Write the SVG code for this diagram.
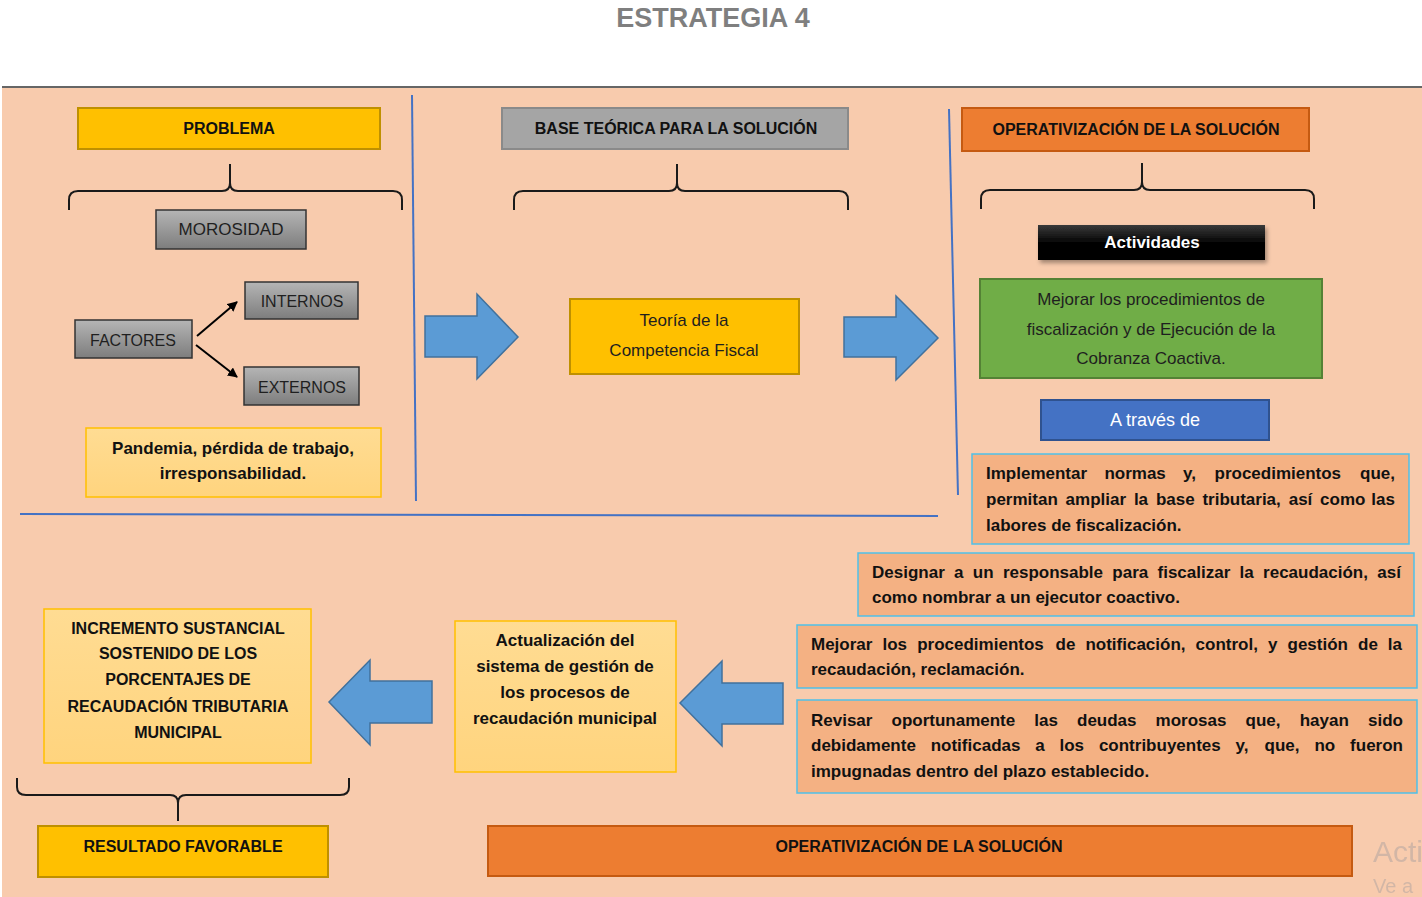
<svg xmlns="http://www.w3.org/2000/svg" width="1422" height="897" viewBox="0 0 1422 897">
<defs>
<linearGradient id="gGray" x1="0" y1="0" x2="0" y2="1"><stop offset="0" stop-color="#b5b5b5"/><stop offset="1" stop-color="#7d7d7d"/></linearGradient>
<linearGradient id="gBlack" x1="0" y1="0" x2="0" y2="1"><stop offset="0" stop-color="#3a3a3a"/><stop offset="0.5" stop-color="#050505"/><stop offset="1" stop-color="#000"/></linearGradient>
<linearGradient id="gLight" x1="0" y1="0" x2="0" y2="1"><stop offset="0" stop-color="#ffdc93"/><stop offset="1" stop-color="#ffd47e"/></linearGradient>
<filter id="sh" x="-10%" y="-20%" width="130%" height="160%"><feDropShadow dx="2" dy="3" stdDeviation="2" flood-color="#000" flood-opacity="0.35"/></filter>
<marker id="ah" viewBox="0 0 10 10" refX="9" refY="5" markerWidth="5" markerHeight="5" orient="auto"><path d="M0,0 L10,5 L0,10 z" fill="#000"/></marker>
<style>
text{font-family:"Liberation Sans",Arial,sans-serif;fill:#111;}
.h{font-size:16px;font-weight:bold;text-anchor:middle;dominant-baseline:central;}
.r{font-size:17px;text-anchor:middle;dominant-baseline:central;fill:#1f1f1f;}
.b{font-size:17px;font-weight:bold;dominant-baseline:central;}
.bc{font-size:17px;font-weight:bold;text-anchor:middle;dominant-baseline:central;}
.bu{font-size:16px;font-weight:bold;text-anchor:middle;dominant-baseline:central;}
.gray{fill:url(#gGray);stroke:#333;stroke-width:1.5;}
.gold{fill:#FFC000;stroke:#BF9000;stroke-width:2;}
.orange{fill:#ED7D31;stroke:#C55A11;stroke-width:2;}
.light{fill:url(#gLight);stroke:#FFC000;stroke-width:1.5;}
.para{fill:#F4B183;stroke:#4FC1E9;stroke-width:1.5;}
.brace{fill:none;stroke:#1a1a1a;stroke-width:2;}
.blk{fill:#5B9BD5;stroke:#41719C;stroke-width:1.5;}
.sep{stroke:#4472C4;stroke-width:2;fill:none;}
</style>
</defs>
<rect x="0" y="0" width="1422" height="897" fill="#fff"/>
<rect x="2" y="88" width="1420" height="809" fill="#F8CBAD"/>
<line x1="2" y1="87" x2="1422" y2="87" stroke="#333" stroke-width="1.5"/>
<text x="713" y="18" style="font-size:27px;font-weight:bold;fill:#7f7f7f;text-anchor:middle;dominant-baseline:central;">ESTRATEGIA 4</text>

<g id="separators">
<line class="sep" x1="412" y1="95" x2="416" y2="501"/>
<line class="sep" x1="949" y1="109" x2="958" y2="495"/>
<line class="sep" x1="20" y1="514" x2="938" y2="516"/>
</g>

<g id="braces">
<path class="brace" d="M69,210 L69,200 Q69,191 78,191 L222,191 Q230,191 230,183 L230,164 M230,183 Q230,191 238,191 L393,191 Q402,191 402,200 L402,210"/>
<path class="brace" d="M514,210 L514,200 Q514,191 523,191 L669,191 Q677,191 677,183 L677,164 M677,183 Q677,191 685,191 L839,191 Q848,191 848,200 L848,210"/>
<path class="brace" d="M981,209 L981,199 Q981,190 990,190 L1134,190 Q1142,190 1142,182 L1142,163 M1142,182 Q1142,190 1150,190 L1305,190 Q1314,190 1314,199 L1314,209"/>
<path class="brace" d="M17,778 L17,787 Q17,795 26,795 L170,795 Q178,795 178,803 L178,821 M178,803 Q178,795 186,795 L340,795 Q349,795 349,787 L349,778"/>
</g>

<g id="problema"><rect class="gold" x="78" y="108" width="302" height="41"/><text class="h" x="229" y="128">PROBLEMA</text></g>
<g id="morosidad"><rect class="gray" x="156" y="210" width="150" height="39"/><text class="r" x="231" y="229">MOROSIDAD</text></g>
<g id="internos"><rect class="gray" x="245" y="282" width="113" height="37"/><text class="r" x="302" y="301" style="font-size:16px">INTERNOS</text></g>
<g id="factores"><rect class="gray" x="75" y="320" width="117" height="38"/><text class="r" x="133" y="340" style="font-size:16px">FACTORES</text></g>
<g id="externos"><rect class="gray" x="244" y="367" width="115" height="38"/><text class="r" x="302" y="387" style="font-size:16px">EXTERNOS</text></g>
<g id="pandemia"><rect class="light" x="86" y="428" width="295" height="69"/>
<text class="bc" x="233" y="448">Pandemia, pérdida de trabajo,</text>
<text class="bc" x="233" y="473">irresponsabilidad.</text></g>

<g id="base"><rect x="502" y="108" width="346" height="41" fill="#A5A5A5" stroke="#8a8a8a" stroke-width="2"/><text class="h" x="676" y="128">BASE TEÓRICA PARA LA SOLUCIÓN</text></g>
<g id="teoria"><rect class="gold" x="570" y="299" width="229" height="75"/>
<text class="r" x="684" y="320">Teoría de la</text>
<text class="r" x="684" y="350">Competencia Fiscal</text></g>

<g id="operativizacion"><rect class="orange" x="962" y="108" width="347" height="43"/><text class="h" x="1136" y="129">OPERATIVIZACIÓN DE LA SOLUCIÓN</text></g>
<g id="actividades"><rect x="1038" y="225" width="227" height="35" fill="url(#gBlack)" filter="url(#sh)"/><text class="bc" x="1152" y="242" style="fill:#fff">Actividades</text></g>
<g id="mejorar-green"><rect x="980" y="279" width="342" height="99" fill="#70AD47" stroke="#548235" stroke-width="2"/>
<text class="r" x="1151" y="299">Mejorar los procedimientos de</text>
<text class="r" x="1151" y="329">fiscalización y de Ejecución de la</text>
<text class="r" x="1151" y="358">Cobranza Coactiva.</text></g>
<g id="atraves"><rect x="1041" y="400" width="228" height="40" fill="#4472C4" stroke="#2F528F" stroke-width="2"/><text class="r" x="1155" y="420" style="fill:#fff;font-size:18px">A través de</text></g>

<g id="implementar"><rect class="para" x="972" y="454" width="437" height="90"/>
<text class="b" y="473"><tspan x="986">Implementar</tspan><tspan x="1104.4">normas</tspan><tspan x="1183">y,</tspan><tspan x="1214.5">procedimientos</tspan><tspan x="1395" text-anchor="end">que,</tspan></text>
<text class="b" y="499"><tspan x="986">permitan</tspan><tspan x="1065.6">ampliar</tspan><tspan x="1133.9">la</tspan><tspan x="1155.9">base</tspan><tspan x="1202.4">tributaria,</tspan><tspan x="1288.7">así</tspan><tspan x="1320.1">como</tspan><tspan x="1395" text-anchor="end">las</tspan></text>
<text class="b" x="986" y="525">labores de fiscalización.</text></g>

<g id="designar"><rect class="para" x="858" y="553" width="556" height="63"/>
<text class="b" y="572"><tspan x="872">Designar</tspan><tspan x="954">a</tspan><tspan x="972.8">un</tspan><tspan x="1002.9">responsable</tspan><tspan x="1112.3">para</tspan><tspan x="1157.5">fiscalizar</tspan><tspan x="1239.6">la</tspan><tspan x="1263.1">recaudación,</tspan><tspan x="1401" text-anchor="end">así</tspan></text>
<text class="b" x="872" y="597">como nombrar a un ejecutor coactivo.</text></g>

<g id="mejorar"><rect class="para" x="797" y="625" width="620" height="63"/>
<text class="b" y="644"><tspan x="811">Mejorar</tspan><tspan x="882.5">los</tspan><tspan x="917.2">procedimientos</tspan><tspan x="1055.6">de</tspan><tspan x="1085.4">notificación,</tspan><tspan x="1195.6">control,</tspan><tspan x="1268">y</tspan><tspan x="1287.5">gestión</tspan><tspan x="1358.1">de</tspan><tspan x="1402" text-anchor="end">la</tspan></text>
<text class="b" x="811" y="669">recaudación, reclamación.</text></g>

<g id="revisar"><rect class="para" x="797" y="700" width="620" height="93"/>
<text class="b" y="720"><tspan x="811">Revisar</tspan><tspan x="891.5">oportunamente</tspan><tspan x="1034.3">las</tspan><tspan x="1077">deudas</tspan><tspan x="1155.6">morosas</tspan><tspan x="1245.6">que,</tspan><tspan x="1299.7">hayan</tspan><tspan x="1403" text-anchor="end">sido</tspan></text>
<text class="b" y="745"><tspan x="811">debidamente</tspan><tspan x="930.7">notificadas</tspan><tspan x="1035.2">a</tspan><tspan x="1059.5">los</tspan><tspan x="1098.9">contribuyentes</tspan><tspan x="1235.6">y,</tspan><tspan x="1264.6">que,</tspan><tspan x="1314.4">no</tspan><tspan x="1403" text-anchor="end">fueron</tspan></text>
<text class="b" x="811" y="771">impugnadas dentro del plazo establecido.</text></g>

<g id="incremento"><rect class="light" x="44" y="609" width="267" height="154"/>
<text class="bu" x="178" y="628">INCREMENTO SUSTANCIAL</text>
<text class="bu" x="178" y="653">SOSTENIDO DE LOS</text>
<text class="bu" x="178" y="679">PORCENTAJES DE</text>
<text class="bu" x="178" y="706">RECAUDACIÓN TRIBUTARIA</text>
<text class="bu" x="178" y="732">MUNICIPAL</text></g>

<g id="actualizacion"><rect class="light" x="455" y="621" width="221" height="151"/>
<text class="bc" x="565" y="640">Actualización del</text>
<text class="bc" x="565" y="666">sistema de gestión de</text>
<text class="bc" x="565" y="692">los procesos de</text>
<text class="bc" x="565" y="718">recaudación municipal</text></g>

<g id="resultado"><rect class="gold" x="38" y="826" width="290" height="51"/><text class="h" x="183" y="846">RESULTADO FAVORABLE</text></g>
<g id="operativizacion-bottom"><rect class="orange" x="488" y="826" width="864" height="50"/><text class="h" x="919" y="846">OPERATIVIZACIÓN DE LA SOLUCIÓN</text></g>

<g id="connectors">
<line x1="197" y1="336" x2="237" y2="302" stroke="#000" stroke-width="2" marker-end="url(#ah)"/>
<line x1="196" y1="345" x2="237" y2="377" stroke="#000" stroke-width="2" marker-end="url(#ah)"/>
<path class="blk" d="M425,316 L477,316 L477,294 L518,337 L477,379 L477,357 L425,357 Z"/>
<path class="blk" d="M844,317 L896,317 L896,296 L938,338 L896,380 L896,357 L844,357 Z"/>
<path class="blk" d="M432,681 L370,681 L370,660 L329,702 L370,745 L370,723 L432,723 Z"/>
<path class="blk" d="M783,683 L722,683 L722,661 L680,703 L722,746 L722,724 L783,724 Z"/>
</g>

<text x="1373" y="851" style="font-size:30px;fill:#a59e9e;opacity:0.45;dominant-baseline:central;">Acti</text>
<text x="1373" y="886" style="font-size:20px;fill:#a59e9e;opacity:0.45;dominant-baseline:central;">Ve a</text>
</svg>
